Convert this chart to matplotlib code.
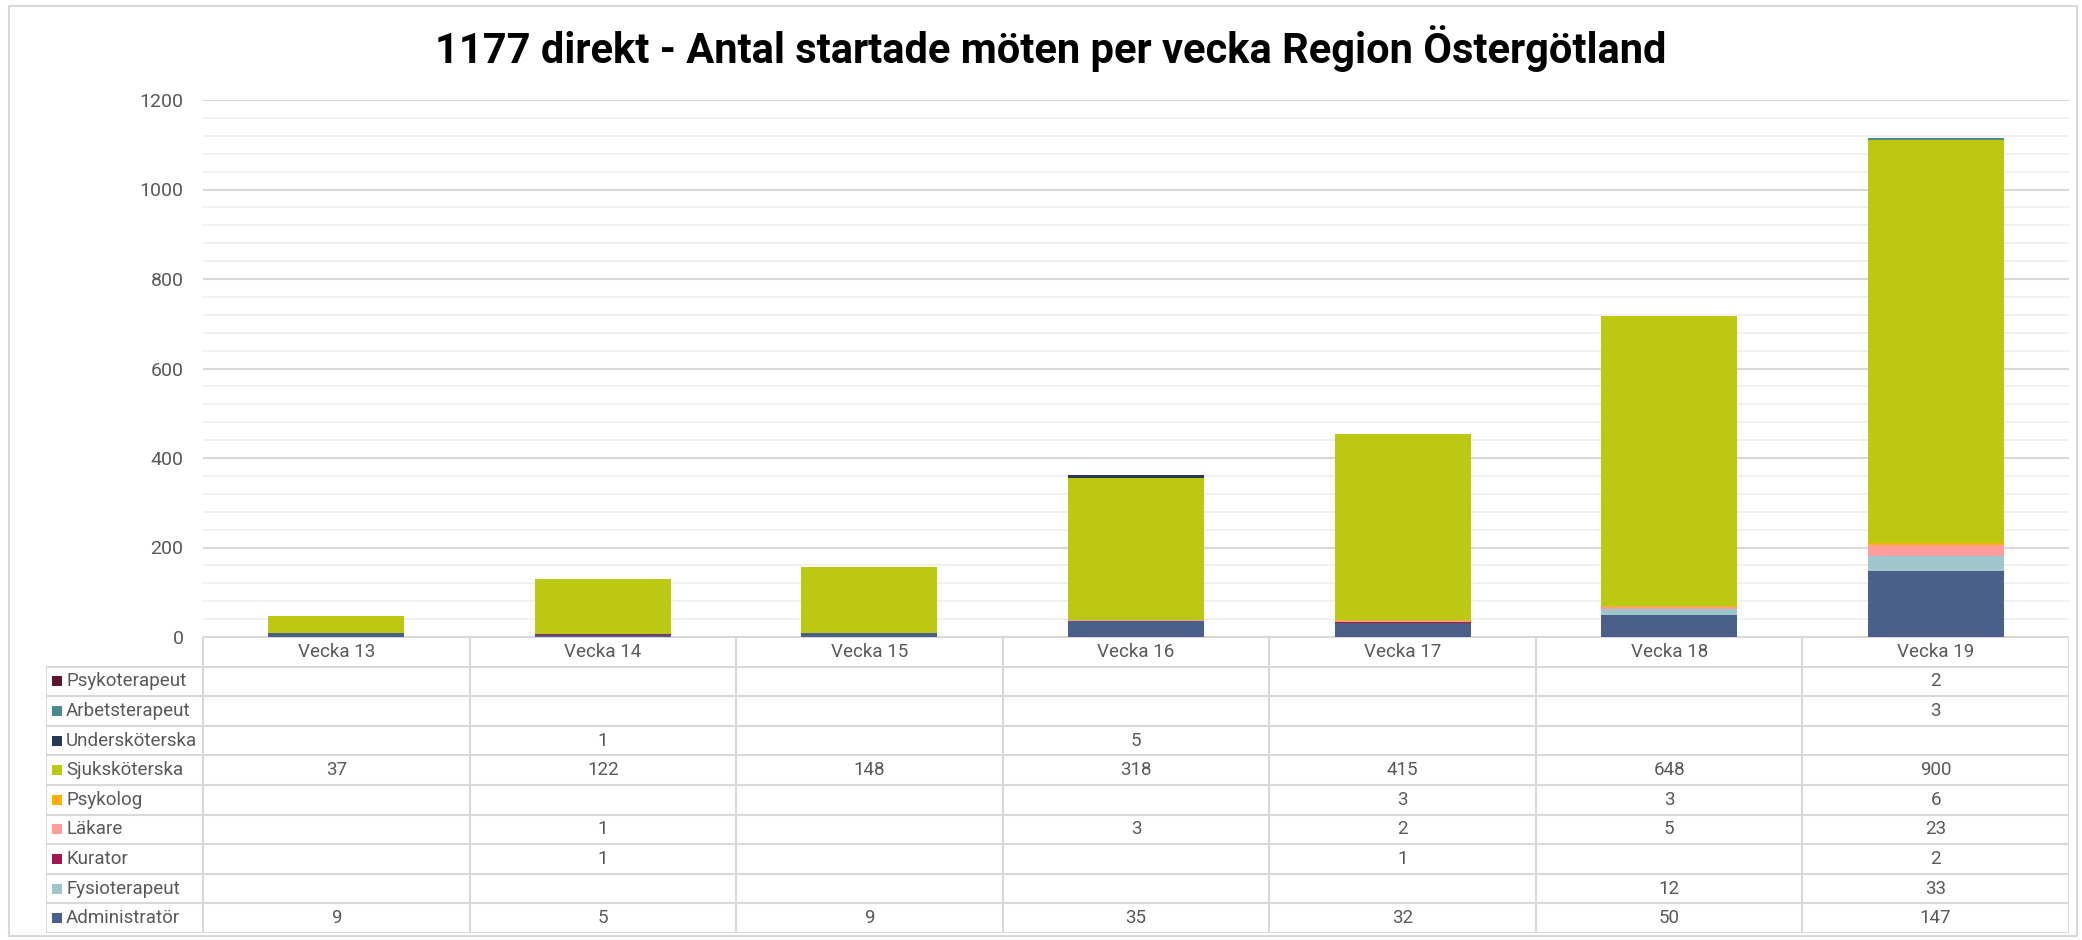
import numpy as np
import matplotlib.pyplot as plt
from matplotlib.patches import Rectangle

plt.rcParams['font.family'] = ['Roboto', 'DejaVu Sans']

weeks = ['Vecka 13', 'Vecka 14', 'Vecka 15', 'Vecka 16', 'Vecka 17', 'Vecka 18', 'Vecka 19']

# bottom to top in the stack
roles = ['Administratör', 'Fysioterapeut', 'Kurator', 'Läkare', 'Psykolog',
         'Sjuksköterska', 'Undersköterska', 'Arbetsterapeut', 'Psykoterapeut']
administrator = [9, 5, 9, 35, 32, 50, 147]
fysioterapeut = [0, 0, 0, 0, 0, 12, 33]
kurator = [0, 1, 0, 0, 1, 0, 2]
lakare = [0, 1, 0, 3, 2, 5, 23]
psykolog = [0, 0, 0, 0, 3, 3, 6]
sjukskoterska = [37, 122, 148, 318, 415, 648, 900]
underskoterska = [0, 1, 0, 5, 0, 0, 0]
arbetsterapeut = [0, 0, 0, 0, 0, 0, 3]
psykoterapeut = [0, 0, 0, 0, 0, 0, 2]
values = [administrator, fysioterapeut, kurator, lakare, psykolog,
          sjukskoterska, underskoterska, arbetsterapeut, psykoterapeut]
colors = ['#4a6089', '#9fc7cb', '#a3174f', '#ff9d9d', '#ffb000',
          '#bdc813', '#263852', '#4a8a8c', '#5e1530']

W, H = 2082, 940
fig = plt.figure(figsize=(W / 100, H / 100), dpi=100)

# outer frame
fig.patches.append(Rectangle((9 / W, 1 - 936 / H), 2068 / W, 930 / H,
                             transform=fig.transFigure, fill=False,
                             edgecolor='#d9d9d9', linewidth=1.5))

fig.text(1051 / W, 1 - 49 / H, '1177 direkt - Antal startade möten per vecka Region Östergötland',
         ha='center', va='center', fontsize=30, fontweight='bold', color='black')

# bar area
pl, pr, pt, pb = 203, 2069, 100, 637
ax = fig.add_axes([pl / W, 1 - pb / H, (pr - pl) / W, (pb - pt) / H])
x = np.arange(len(weeks))
bottom = np.zeros(len(weeks))
for vals, c in zip(values, colors):
    ax.bar(x, vals, 0.51, bottom=bottom, color=c, zorder=3)
    bottom += np.array(vals)
ax.set_xlim(-0.5, len(weeks) - 0.5)
ax.set_ylim(0, 1200)
ax.set_yticks(range(0, 1201, 200))
ax.set_yticks(range(0, 1201, 40), minor=True)
ax.grid(axis='y', which='major', color='#d9d9d9', linewidth=1.5, zorder=0)
ax.grid(axis='y', which='minor', color='#f0f0f0', linewidth=1.3, zorder=0)
ax.set_xticks([])
ax.tick_params(axis='y', which='both', length=0, pad=14, labelsize=14, labelcolor='#595959')
for s in ax.spines.values():
    s.set_visible(False)

# data table
col_w = (pr - pl) / len(weeks)
lab_w = 157
tl, tt, tb = 46, 637, 933
xl = -0.5 - lab_w / col_w
tax = fig.add_axes([tl / W, 1 - tb / H, (pr - tl) / W, (tb - tt) / H])
tax.set_xlim(xl, len(weeks) - 0.5)
tax.set_ylim(len(roles) + 1, 0)
tax.axis('off')
px = (len(weeks) - 0.5 - xl) / (pr - tl)
lc = '#d9d9d9'

tax.plot([-0.5, len(weeks) - 0.5], [0, 0], color=lc, lw=1.5)
for r in range(1, len(roles) + 2):
    tax.plot([xl, len(weeks) - 0.5], [r, r], color=lc, lw=1.5)
tax.plot([xl, xl], [1, len(roles) + 1], color=lc, lw=1.5)
for k in range(len(weeks) + 1):
    tax.plot([k - 0.5, k - 0.5], [0, len(roles) + 1], color=lc, lw=1.5)

for k, wk in enumerate(weeks):
    tax.text(k, 0.5, wk, ha='center', va='center', fontsize=13.5, color='#595959')

rows = list(range(len(roles)))[::-1]
for r, i in enumerate(rows, start=1):
    tax.add_patch(Rectangle((xl + 6 * px, r + 0.5 - 5 / 29.6), 10 * px, 10 / 29.6,
                            color=colors[i], lw=0))
    tax.text(xl + 20 * px, r + 0.5, roles[i], ha='left', va='center',
             fontsize=13.5, color='#595959')
    for k, v in enumerate(values[i]):
        if v:
            tax.text(k, r + 0.5, str(v), ha='center', va='center',
                     fontsize=13.5, color='#595959')

fig.savefig('out.png', dpi=100)
